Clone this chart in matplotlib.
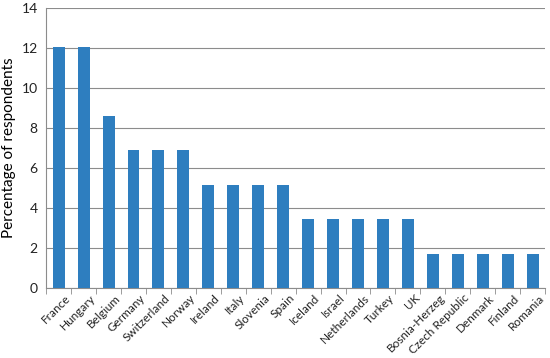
import numpy as np
import matplotlib.pyplot as plt
import matplotlib.transforms as mtransforms

plt.rcParams['font.family'] = ['Lato', 'DejaVu Sans']

countries = ['France', 'Hungary', 'Belgium', 'Germany', 'Switzerland', 'Norway',
             'Ireland', 'Italy', 'Slovenia', 'Spain', 'Iceland', 'Israel',
             'Netherlands', 'Turkey', 'UK', 'Bosnia-Herzeg', 'Czech Republic',
             'Denmark', 'Finland', 'Romania']
percent = [12.07, 12.07, 8.62, 6.9, 6.9, 6.9, 5.17, 5.17, 5.17, 5.17,
           3.45, 3.45, 3.45, 3.45, 3.45, 1.72, 1.72, 1.72, 1.72, 1.72]

fig = plt.figure(figsize=(5.5, 3.58), dpi=100)
ax = fig.add_axes([0.084, 0.195, 0.907, 0.783])

xpos = np.arange(len(countries))
ax.bar(xpos, percent, width=0.48, color='#2e7ebf', zorder=3)

ax.set_xlim(-0.5, len(countries) - 0.5)
ax.set_ylim(0, 14)
ax.set_yticks(range(0, 15, 2))
ax.yaxis.grid(True, color='#8c8c8c', linewidth=0.8, zorder=0)
ax.tick_params(axis='y', length=0, labelsize=10, pad=6, colors='#222222')
ax.set_ylabel('Percentage of respondents', fontsize=11, labelpad=4)

ax.set_xticks(xpos)
ax.set_xticklabels(countries, rotation=45, ha='right', rotation_mode='anchor',
                   fontsize=8.5, color='#222222')
ax.set_xticks(np.arange(-0.5, len(countries)), minor=True)
ax.tick_params(axis='x', which='major', length=0, pad=3)
ax.tick_params(axis='x', which='minor', length=4, color='#8c8c8c')
shift = mtransforms.ScaledTranslation(6 / 100, 0, fig.dpi_scale_trans)
for lab in ax.get_xticklabels():
    lab.set_transform(lab.get_transform() + shift)

for s in ['top', 'right']:
    ax.spines[s].set_visible(False)
ax.spines['left'].set_color('#8c8c8c')
ax.spines['bottom'].set_color('#8c8c8c')

fig.savefig('out.png', dpi=100)
